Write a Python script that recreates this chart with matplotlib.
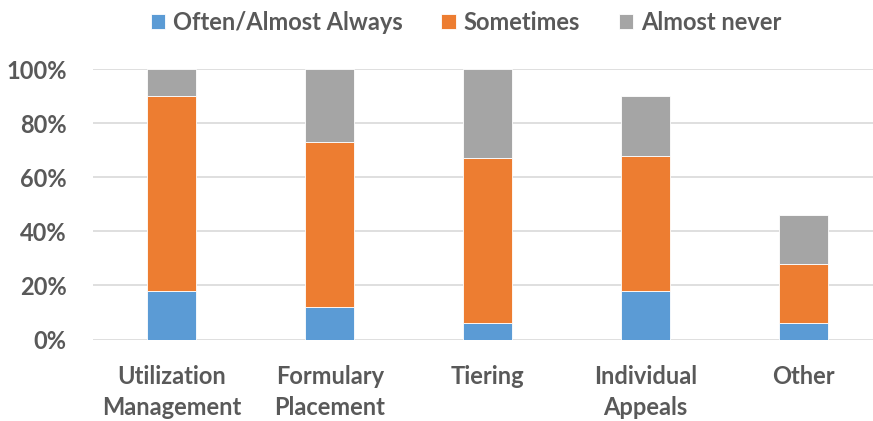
import matplotlib.pyplot as plt
import numpy as np

plt.rcParams['font.family'] = ['Lato', 'DejaVu Sans']

categories = ['Utilization\nManagement', 'Formulary\nPlacement', 'Tiering',
              'Individual\nAppeals', 'Other']
often = [18, 12, 6, 18, 6]
sometimes = [72, 61, 61, 50, 22]
almost_never = [10, 27, 33, 22, 18]
series_names = ['Often/Almost Always', 'Sometimes', 'Almost never']
yticks = [0, 20, 40, 60, 80, 100]

colors = ['#5B9BD5', '#ED7D31', '#A5A5A5']
txt = '#595959'
fs = 17

fig = plt.figure(figsize=(8.73, 4.21), dpi=100)
ax = fig.add_axes([93/873, (421-339.5)/421, 1 - 93/873, 270.3/421])

x = np.arange(len(categories))
w = 0.31
bottom = np.zeros(len(categories))
handles = []
for vals, c, name in zip([often, sometimes, almost_never], colors, series_names):
    b = ax.bar(x, vals, w, bottom=bottom, color=c, edgecolor='white',
               linewidth=0.6, label=name, zorder=3)
    handles.append(b)
    bottom += np.array(vals)

ax.set_ylim(0, 100)
ax.set_xlim(-0.5, 4.5 - 9/158)
ax.set_yticks(yticks)
ax.set_yticklabels([f'{t}%' for t in yticks])
ax.set_xticks(x)
ax.set_xticklabels(categories, linespacing=1.45)
ax.tick_params(axis='y', length=0, pad=19, labelsize=fs, labelcolor=txt)
ax.tick_params(axis='x', length=0, pad=18, labelsize=fs, labelcolor=txt)
for lab in ax.get_xticklabels() + ax.get_yticklabels():
    lab.set_fontweight('bold')

ax.grid(axis='y', color='#D9D9D9', linewidth=1.2, zorder=0)
for s in ax.spines.values():
    s.set_visible(False)

leg = fig.legend(handles=handles, loc='center', bbox_to_anchor=(466/873, 1 - 22/421),
                 ncol=3, frameon=False, handlelength=0.6, handleheight=0.6,
                 handletextpad=0.34, columnspacing=1.65,
                 prop={'size': fs, 'weight': 'bold'})
for t in leg.get_texts():
    t.set_color(txt)

fig.savefig('out.png', dpi=100)
